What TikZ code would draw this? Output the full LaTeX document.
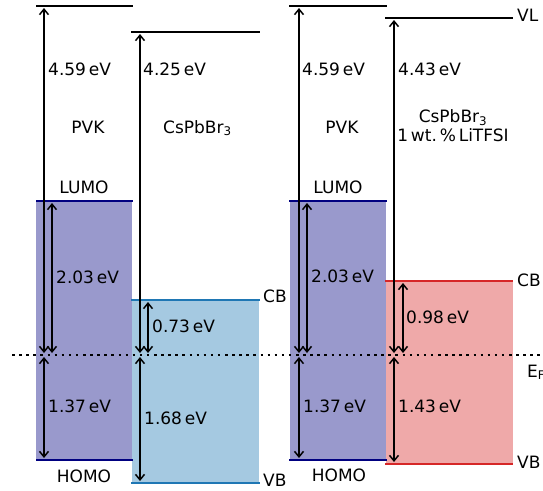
\documentclass[tikz,border=0pt]{standalone}
\usepackage{fontspec}
\setmainfont{DejaVu Sans}
\usetikzlibrary{arrows.meta}
\definecolor{pvk_line}{HTML}{000080}
\definecolor{pvk_fill}{HTML}{9999CC}
\definecolor{cs_line}{HTML}{1F77B4}
\definecolor{cs_fill}{HTML}{A5C9E1}
\definecolor{li_line}{HTML}{D62728}
\definecolor{li_fill}{HTML}{EFA9A9}

\begin{document}
\begin{tikzpicture}[x=1pt, y=-1pt,
    level/.style={line width=2.6pt},
    gap/.style={line width=1.5pt, shorten <=2pt, shorten >=2pt,
        {Straight Barb[length=5.5pt, width=9pt]}-{Straight Barb[length=5.5pt, width=9pt]}},
    txt/.style={font=\fontsize{17}{19}\selectfont, inner sep=0pt}
]
\useasboundingbox (0,0) rectangle (543,490);

% ---------------------------------------------------------------
%  Band alignment, pixel units (y downwards), Fermi level at y=355
%  left:  PVK | CsPbBr3        right: PVK | CsPbBr3 + LiTFSI
% ---------------------------------------------------------------

% ---- Arrow end points, left panel ----
\coordinate (pvkAvl)   at ( 44,   6);   %  vacuum level PVK
\coordinate (pvkAef)   at ( 44, 355);
\coordinate (pvkAhomo) at ( 44, 460);
\coordinate (pvkAlumo) at ( 52, 201);
\coordinate (pvkAef2)  at ( 52, 355);
\coordinate (csAvl)    at (140,  32);   %  vacuum level CsPbBr3
\coordinate (csAef)    at (140, 355);
\coordinate (csAvb)    at (140, 483);
\coordinate (csAcb)    at (148, 300);
\coordinate (csAef2)   at (148, 355);

% ---- Arrow end points, right panel ----
\coordinate (pvkBvl)   at (299,   6);
\coordinate (pvkBef)   at (299, 355);
\coordinate (pvkBhomo) at (299, 460);
\coordinate (pvkBlumo) at (307, 201);
\coordinate (pvkBef2)  at (307, 355);
\coordinate (csBvl)    at (394,  18);
\coordinate (csBef)    at (394, 355);
\coordinate (csBvb)    at (394, 464);
\coordinate (csBcb)    at (403, 281);
\coordinate (csBef2)   at (403, 355);

% ---- Gap fills ----
\fill[pvk_fill] ( 36, 201) rectangle (132, 460);
\fill[cs_fill]  (132, 300) rectangle (259, 483);
\fill[pvk_fill] (290, 201) rectangle (386, 460);
\fill[li_fill]  (386, 281) rectangle (513, 464);

% ---- Vacuum levels ----
\draw[level] ( 36,  6) -- (133,  6);
\draw[level] (131, 32) -- (260, 32);
\draw[level] (289,  6) -- (387,  6);
\draw[level] (385, 18) -- (513, 18);

% ---- Band edges ----
\draw[level, pvk_line] ( 36, 201) -- (133, 201);
\draw[level, pvk_line] ( 36, 460) -- (133, 460);
\draw[level, cs_line]  (131, 300) -- (260, 300);
\draw[level, cs_line]  (131, 483) -- (260, 483);
\draw[level, pvk_line] (289, 201) -- (387, 201);
\draw[level, pvk_line] (289, 460) -- (387, 460);
\draw[level, li_line]  (385, 281) -- (513, 281);
\draw[level, li_line]  (385, 464) -- (513, 464);

% ---- Fermi level ----
\draw[line width=2.5pt, dash pattern=on 2.5pt off 4.6pt] (12, 355) -- (550, 355);

% ---- Energy differences ----
\draw[gap] (pvkAvl)   -- (pvkAef);
\draw[gap] (pvkAlumo) -- (pvkAef2);
\draw[gap] (pvkAef)   -- (pvkAhomo);
\draw[gap] (csAvl)    -- (csAef);
\draw[gap] (csAcb)    -- (csAef2);
\draw[gap] (csAef)    -- (csAvb);
\draw[gap] (pvkBvl)   -- (pvkBef);
\draw[gap] (pvkBlumo) -- (pvkBef2);
\draw[gap] (pvkBef)   -- (pvkBhomo);
\draw[gap] (csBvl)    -- (csBef);
\draw[gap] (csBcb)    -- (csBef2);
\draw[gap] (csBef)    -- (csBvb);

% ---- Labels, left panel ----
\node[txt, anchor=base west] (wfA)    at ( 48,  75) {4.59\,eV};
\node[txt, anchor=base west] (wcA)    at (143,  75) {4.25\,eV};
\node[txt, anchor=base]      (pvkA)   at ( 88, 133) {PVK};
\node[txt, anchor=base west] (csA)    at (163, 133) {CsPbBr\textsubscript{3}};
\node[txt, anchor=base]      (lumoA)  at ( 84, 193) {LUMO};
\node[txt, anchor=base west] (egLA)   at ( 56, 283) {2.03\,eV};
\node[txt, anchor=base west] (cbgA)   at (152, 332) {0.73\,eV};
\node[txt, anchor=base west] (egHA)   at ( 48, 412) {1.37\,eV};
\node[txt, anchor=base west] (vbgA)   at (144, 424) {1.68\,eV};
\node[txt, anchor=base]      (homoA)  at ( 84, 482) {HOMO};
\node[txt, anchor=base west] (cbA)    at (263, 302) {CB};
\node[txt, anchor=base west] (vbA)    at (263, 486) {VB};

% ---- Labels, right panel ----
\node[txt, anchor=base west] (wfB)    at (302,  75) {4.59\,eV};
\node[txt, anchor=base west] (wcB)    at (398,  75) {4.43\,eV};
\node[txt, anchor=base west] (vl)     at (517,  21) {VL};
\node[txt, anchor=base]      (pvkB)   at (342, 133) {PVK};
\node[txt, align=center]     (csB)    at (453, 126)
    {CsPbBr\textsubscript{3}\\1\,wt.\,\%\,LiTFSI};
\node[txt, anchor=base]      (lumoB)  at (338, 193) {LUMO};
\node[txt, anchor=base west] (egLB)   at (311, 282) {2.03\,eV};
\node[txt, anchor=base west] (cbgB)   at (406, 323) {0.98\,eV};
\node[txt, anchor=base west] (egHB)   at (303, 412) {1.37\,eV};
\node[txt, anchor=base west] (vbgB)   at (398, 412) {1.43\,eV};
\node[txt, anchor=base]      (homoB)  at (339, 481) {HOMO};
\node[txt, anchor=base west] (cbB)    at (517, 286) {CB};
\node[txt, anchor=base west] (vbB)    at (517, 468) {VB};
\node[txt, anchor=base west] (ef)     at (527, 377) {E\textsubscript{F}};

\end{tikzpicture}
\end{document}
